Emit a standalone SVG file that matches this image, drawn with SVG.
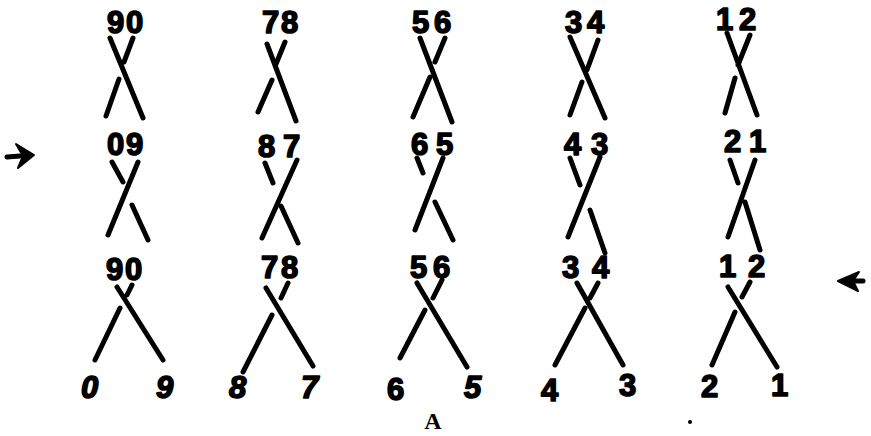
<svg xmlns="http://www.w3.org/2000/svg" width="871" height="436" viewBox="0 0 871 436">
<style>
.s{stroke:#000;stroke-width:5;stroke-linecap:round;fill:none}
.d{font-family:"Liberation Sans",Arial,sans-serif;font-weight:bold;font-size:31px;fill:#000;stroke:#000;stroke-width:1.6;stroke-linejoin:round}
.i{font-style:italic}
.a{font-family:"Liberation Serif","Times New Roman",serif;font-weight:bold;font-size:24px;fill:#000}
</style>
<rect width="871" height="436" fill="#fff"/>
<g id="col1-top"><text class="d" x="107 126" y="33">90</text>
<path class="s" d="M110,38L143,118M133,38L124,62M119,79L106,116"/></g>
<g id="col2-top"><text class="d" x="262 281" y="33">78</text>
<path class="s" d="M267,44L296,121M285,42L276,64M272,80L258,112"/></g>
<g id="col3-top"><text class="d" x="412 434" y="33">56</text>
<path class="s" d="M420,38L452,122M445,38L435,62M430,77L413,117"/></g>
<g id="col4-top"><text class="d" x="565 587" y="33">34</text>
<path class="s" d="M570,37L605,118M598,40L587,70M582,82L570,115"/></g>
<g id="col5-top"><text class="d" x="716 739" y="30">12</text>
<path class="s" d="M727,33L757,115M750,35L738,65M735,78L725,113"/></g>

<g id="col1-mid"><text class="d" x="107 126" y="155">09</text>
<path class="s" d="M138,162L108,235M112,162L123,182M132,205L148,240"/></g>
<g id="col2-mid"><text class="d" x="258 283" y="157">87</text>
<path class="s" d="M297,160L262,238M265,163L273,183M281,206L298,243"/></g>
<g id="col3-mid"><text class="d" x="411 436" y="155">65</text>
<path class="s" d="M443,158L415,230M417,158L423,173M435,202L453,240"/></g>
<g id="col4-mid"><text class="d" x="564 591" y="155">43</text>
<path class="s" d="M600,157L568,237M570,158L580,185M590,210L605,253"/></g>
<g id="col5-mid"><text class="d" x="724 749" y="152">21</text>
<path class="s" d="M755,160L728,237M730,160L738,183M745,202L760,250"/></g>

<g id="col1-bot"><text class="d" x="106 125" y="280">90</text>
<path class="s" d="M117,287L163,360M132,285L127,295M120,308L95,360"/>
<text class="d i" x="81" y="398">0</text><text class="d i" x="156" y="398">9</text></g>
<g id="col2-bot"><text class="d" x="261 281" y="278">78</text>
<path class="s" d="M266,288L313,366M288,283L281,298M272,315L243,372"/>
<text class="d i" x="229" y="398">8</text><text class="d i" x="301" y="398">7</text></g>
<g id="col3-bot"><text class="d" x="410 433" y="278">56</text>
<path class="s" d="M417,283L467,367M442,280L433,298M425,310L400,358"/>
<text class="d" x="387" y="400">6</text><text class="d i" x="464" y="398">5</text></g>
<g id="col4-bot"><text class="d" x="562 592" y="278">34</text>
<path class="s" d="M577,283L623,365M598,283L590,298M585,308L555,365"/>
<text class="d" x="541" y="401">4</text><text class="d" x="619" y="396">3</text></g>
<g id="col5-bot"><text class="d" x="719 748" y="277">12</text>
<path class="s" d="M728,287L777,367M750,282L742,297M735,312L712,365"/>
<text class="d" x="701" y="397">2</text><text class="d" x="771" y="396">1</text></g>

<g id="connectors">
<g id="arrow-left"><path class="s" stroke-width="4" d="M7,157L20,156"/><polygon points="16,144 34,155 18,168 23,156" fill="#000" stroke="#000" stroke-width="2" stroke-linejoin="round"/></g>
<g id="arrow-right"><path class="s" stroke-width="4" d="M848,281L863,281"/><polygon points="859,272 838,281 858,291 853,281" fill="#000" stroke="#000" stroke-width="2" stroke-linejoin="round"/></g>
</g>
<text class="a" x="433" y="429" text-anchor="middle">A</text>
<circle cx="690" cy="422" r="2" fill="#000"/>
</svg>
